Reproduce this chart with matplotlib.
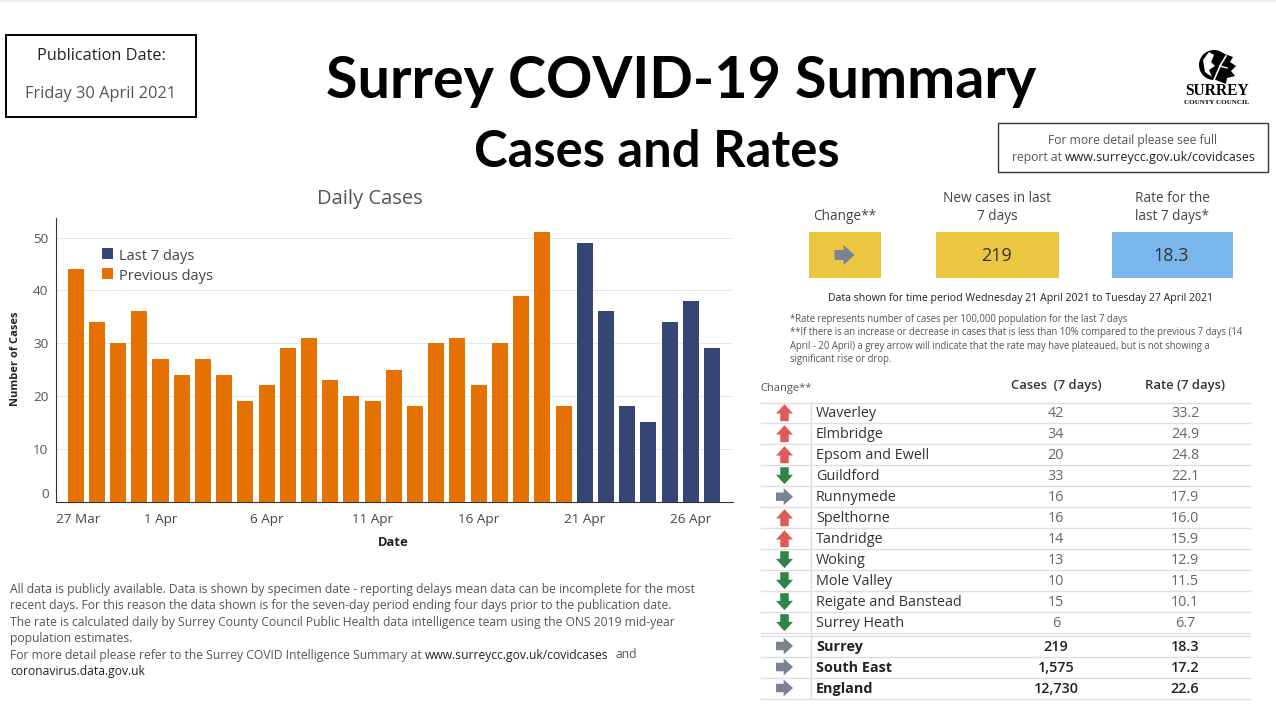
import matplotlib
matplotlib.use("Agg")
import matplotlib.pyplot as plt
from matplotlib.patches import Rectangle, FancyArrow, Polygon, Circle

W, H = 1276, 715
BODY = "Open Sans"
TITLE = "Lato"

# daily cases, 28 Mar to 27 Apr
prev_days = [44, 34, 30, 36, 27, 24, 27, 24, 19, 22, 29, 31, 23, 20, 19, 25, 18, 30, 31, 22, 30, 39, 51, 18]
last_days = [49, 36, 18, 15, 34, 38, 29]
date_labels = ["27 Mar", "1 Apr", "6 Apr", "11 Apr", "16 Apr", "21 Apr", "26 Apr"]
date_ticks = [-0.95, 4, 9, 14, 19, 24, 29]
y_ticks = [0, 10, 20, 30, 40, 50]

# table
areas = ["Waverley", "Elmbridge", "Epsom and Ewell", "Guildford", "Runnymede", "Spelthorne",
         "Tandridge", "Woking", "Mole Valley", "Reigate and Banstead", "Surrey Heath"]
area_cases = ["42", "34", "20", "33", "16", "16", "14", "13", "10", "15", "6"]
area_rates = ["33.2", "24.9", "24.8", "22.1", "17.9", "16.0", "15.9", "12.9", "11.5", "10.1", "6.7"]
area_change = ["up", "up", "up", "down", "flat", "up", "up", "down", "down", "down", "down"]
totals = ["Surrey", "South East", "England"]
total_cases = ["219", "1,575", "12,730"]
total_rates = ["18.3", "17.2", "22.6"]
total_change = ["flat", "flat", "flat"]

ORANGE = "#E57200"
NAVY = "#344576"
RED = "#E05A5A"
GREEN = "#2F8549"
GREY = "#7A8294"
YELLOW = "#EBC640"
BLUE = "#7AB6EB"
LINE = "#dfdfdf"

fig = plt.figure(figsize=(W / 100, H / 100), dpi=100, facecolor="white")

# overlay in pixel coordinates for all the dashboard bits
bg = fig.add_axes([0, 0, 1, 1])
bg.set_xlim(0, W)
bg.set_ylim(H, 0)
bg.axis("off")


def txt(x, y, s, size=10, color="#444444", ha="left", weight="normal", family=BODY, **kw):
    # open sans sits a bit high with va=center
    return bg.text(x, y + 2.5, s, fontsize=size, color=color, ha=ha, va="center", fontweight=weight, family=family, **kw)


def arrow(cx, cy, kind, size=17):
    half = size / 2
    head = size * 0.55
    stem = size * 0.5
    if kind == "up":
        a = FancyArrow(cx, cy + half, 0, -size, width=stem, head_width=size, head_length=head,
                       length_includes_head=True, color=RED, lw=0)
    elif kind == "down":
        a = FancyArrow(cx, cy - half, 0, size, width=stem, head_width=size, head_length=head,
                       length_includes_head=True, color=GREEN, lw=0)
    else:
        a = FancyArrow(cx - half, cy, size, 0, width=stem, head_width=size, head_length=head,
                       length_includes_head=True, color=GREY, lw=0)
    bg.add_patch(a)


# top strip
bg.add_patch(Rectangle((0, 0), W, 2, color="#ececec", lw=0))

# titles
txt(681, 79, "Surrey COVID-19 Summary", size=41.4, color="black", ha="center", weight="bold", family=TITLE)
txt(657, 150, "Cases and Rates", size=36.5, color="black", ha="center", weight="bold", family=TITLE)

# publication box
bg.add_patch(Rectangle((6, 35), 190, 82, fill=False, ec="black", lw=1.4))
txt(101, 53, "Publication Date:", size=11.7, color="#222222", ha="center", weight="medium")
txt(101, 92, "Friday 30 April 2021", size=11.8, color="#555555", ha="center")

# report box
bg.add_patch(Rectangle((997.5, 122.5), 270, 49, fill=False, ec="#333333", lw=1))
txt(1133, 138, "For more detail please see full", size=8.7, color="#555555", ha="center")
txt(1012, 155, "report at", size=8.7, color="#555555")
txt(1065, 155, "www.surreycc.gov.uk/covidcases", size=9, color="#222222")

# logo, rough leaf and wordmark
bg.add_patch(Circle((1214, 65), 15, color="black", lw=0))
bg.add_patch(Polygon([(1222, 53), (1233, 57), (1230, 62), (1236, 66), (1231, 71), (1235, 76), (1227, 78),
                      (1226, 84), (1216, 80)], color="black", lw=0))
bg.add_patch(Polygon([(1203, 60), (1209, 52), (1214, 55), (1211, 62), (1215, 66), (1209, 70), (1212, 77), (1205, 72)],
                     color="white", lw=0))
bg.plot([1214, 1220, 1226], [80, 66, 56], color="white", lw=1.2)
bg.plot([1220, 1227], [66, 68], color="white", lw=1)
txt(1217, 88.5, "SURREY", size=11.2, color="black", ha="center", weight="bold", family="Liberation Serif")
txt(1217, 100, "COUNTY COUNCIL", size=5, color="black", ha="center", weight="bold", family="Liberation Serif")

# kpi row
txt(845, 214, "Change**", size=9.8, ha="center")
txt(997, 196, "New cases in last", size=9.8, ha="center")
txt(997, 214, "7 days", size=9.8, ha="center")
txt(1172, 196, "Rate for the", size=9.8, ha="center")
txt(1172, 214, "last 7 days*", size=9.8, ha="center")
bg.add_patch(Rectangle((809, 232), 72, 46, color=YELLOW, lw=0))
bg.add_patch(Rectangle((936, 232), 123, 46, color=YELLOW, lw=0))
bg.add_patch(Rectangle((1112, 232), 121, 46, color=BLUE, lw=0))
arrow(844.5, 255, "flat", size=20)
txt(997, 253.5, "219", size=13, color="#333333", ha="center")
txt(1171, 253.5, "18.3", size=13, color="#333333", ha="center")

txt(1021, 296, "Data shown for time period Wednesday 21 April 2021 to Tuesday 27 April 2021", size=7.58,
    color="#222222", ha="center", weight="medium")
txt(790, 317, "*Rate represents number of cases per 100,000 population for the last 7 days", size=6.85, color="#555555")
txt(790, 330, "**If there is an increase or decrease in cases that is less than 10% compared to the previous 7 days (14",
    size=6.85, color="#555555")
txt(790, 344, "April - 20 April) a grey arrow will indicate that the rate may have plateaued, but is not showing a",
    size=6.85, color="#555555")
txt(790, 357, "significant rise or drop.", size=6.85, color="#555555")

# table
txt(760, 385.5, "Change**", size=8, color="#555555")
txt(1056, 383, "Cases  (7 days)", size=9.4, color="#333333", ha="center", weight="semibold")
txt(1185, 383, "Rate (7 days)", size=9.4, color="#333333", ha="center", weight="semibold")

for i in range(len(areas)):
    y = 412.7 + 21 * i
    arrow(784.5, y, area_change[i])
    txt(816, y - 1.7, areas[i], size=10.4, color="#333333")
    txt(1056, y - 1.7, area_cases[i], size=10.4, color="#666666", ha="center")
    txt(1185, y - 1.7, area_rates[i], size=10.4, color="#666666", ha="center")
    bg.plot([761, 809], [y + 10.5, y + 10.5], color=LINE, lw=1)
    bg.plot([811, 1250], [y + 10.5, y + 10.5], color=LINE, lw=1)

for i in range(len(totals)):
    y = 646 + 21 * i
    arrow(784.5, y, total_change[i])
    txt(816, y - 1.7, totals[i], size=10.4, color="#222222", weight="bold")
    txt(1056, y - 1.7, total_cases[i], size=10.4, color="#222222", ha="center", weight="semibold")
    txt(1185, y - 1.7, total_rates[i], size=10.4, color="#222222", ha="center", weight="semibold")
    bg.plot([761, 1250], [y + 10.5, y + 10.5], color=LINE, lw=1)

bg.plot([761, 1250], [402.5, 402.5], color=LINE, lw=1)
bg.plot([761, 1250], [635.5, 635.5], color=LINE, lw=1)
bg.plot([811, 811], [403, 698], color=LINE, lw=1)

# footer
foot = ["All data is publicly available. Data is shown by specimen date - reporting delays mean data can be incomplete for the most",
        "recent days. For this reason the data shown is for the seven-day period ending four days prior to the publication date.",
        "The rate is calculated daily by Surrey County Council Public Health data intelligence team using the ONS 2019 mid-year",
        "population estimates."]
for i, line in enumerate(foot):
    txt(10, 587 + 16.4 * i, line, size=8.75, color="#555555")
txt(10, 652.5, "For more detail please refer to the Surrey COVID Intelligence Summary at", size=8.75, color="#555555")
txt(425, 652.5, "www.surreycc.gov.uk/covidcases", size=8.75, color="#222222")
txt(615, 652.5, "and", size=8.75, color="#555555")
txt(10, 669, "coronavirus.data.gov.uk", size=8.75, color="#222222")

# bar chart, box set so that one day is 21.2 px
left, right, top, bottom = 55.5, 733, 218, 501.5
ax = fig.add_axes([left / W, 1 - bottom / H, (right - left) / W, (bottom - top) / H])
ax.patch.set_alpha(0)
x_prev = list(range(len(prev_days)))
x_last = list(range(len(prev_days), len(prev_days) + len(last_days)))
ax.bar(x_prev, prev_days, width=0.755, color=ORANGE, zorder=3)
ax.bar(x_last, last_days, width=0.755, color=NAVY, zorder=3)
ax.set_xlim(-0.95, 30.99)
ax.set_ylim(0, 53.7)
ax.set_yticks(y_ticks)
ax.set_xticks(date_ticks)
ax.set_xticklabels(date_labels, family=BODY, fontsize=9.7, color="#444444")
ax.xaxis.get_majorticklabels()[0].set_ha("left")
ax.set_yticklabels([str(v) for v in y_ticks], family=BODY, fontsize=9.7, color="#555555")
ax.tick_params(length=0)
ax.tick_params(axis="x", pad=8)
ax.tick_params(axis="y", pad=5)
ax.yaxis.get_majorticklabels()[0].set_verticalalignment("bottom")
ax.grid(axis="y", color="#d0d0d0", ls=(0, (1, 1)), lw=0.7, zorder=0)
ax.spines["top"].set_visible(False)
ax.spines["right"].set_visible(False)
ax.spines["left"].set_color("#333333")
ax.spines["bottom"].set_color("#333333")

# axis and legend text
fig.text(16 / W, 1 - 359 / H, "Number of Cases", rotation=90, ha="center", va="center", family=BODY,
         fontsize=8, fontweight="bold", color="#222222")
fig.text(393 / W, 1 - 542 / H, "Date", ha="center", va="center", family=BODY, fontsize=9.4, fontweight="bold",
         color="#222222")
fig.text(370 / W, 1 - 199 / H, "Daily Cases", ha="center", va="center", family=BODY, fontsize=14.5, color="#555555")
fig.patches.append(Rectangle((102 / W, 1 - 259 / H), 11 / W, 11 / H, transform=fig.transFigure, color=NAVY, lw=0))
fig.patches.append(Rectangle((102 / W, 1 - 279 / H), 11 / W, 11 / H, transform=fig.transFigure, color=ORANGE, lw=0))
fig.text(119 / W, 1 - 256 / H, "Last 7 days", va="center", family=BODY, fontsize=10.5, color="#444444")
fig.text(119 / W, 1 - 277 / H, "Previous days", va="center", family=BODY, fontsize=10.5, color="#444444")

fig.savefig("out.png", dpi=100)
